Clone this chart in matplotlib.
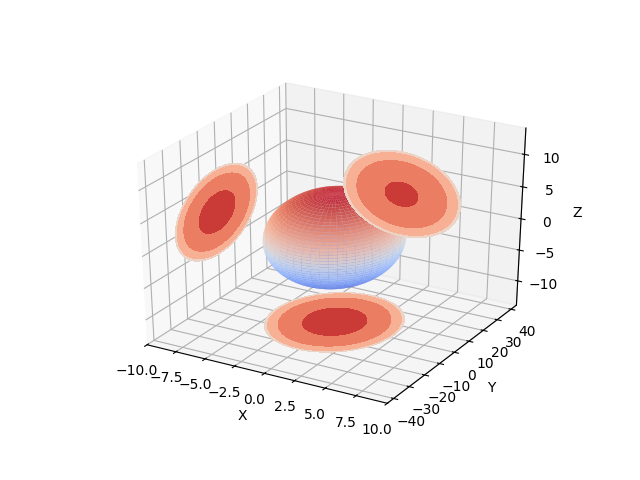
import numpy as np
import matplotlib
matplotlib.use("Agg")
import matplotlib.pyplot as plt
from matplotlib import cm

# ellipsoid radii and wall offsets
radius_x = 5
radius_y = 25
radius_z = 6.75
n_u = 100
n_v = 100
x_offset = -10
y_offset = 44
z_offset = -13.5

u = np.linspace(0, 2 * np.pi, n_u)
v = np.linspace(0, np.pi, n_v)
X = radius_x * np.outer(np.cos(u), np.sin(v))
Y = radius_y * np.outer(np.sin(u), np.sin(v))
Z = radius_z * np.outer(np.ones(n_u), np.cos(v))

fig = plt.figure()
ax = fig.add_subplot(projection="3d", computed_zorder=False)
# stretch the box to the whole axes rectangle
ax.apply_aspect = lambda position=None: None
ax.set_box_aspect((1, 1, 1), zoom=0.94)
ax.plot_surface(X, Y, Z, cmap=cm.coolwarm, alpha=0.85)

ax.contourf(X, Y, Z, zdir="z", offset=z_offset, cmap=cm.coolwarm)
ax.contourf(X, Y, Z, zdir="x", offset=x_offset, cmap=cm.coolwarm)
ax.contourf(X, Y, Z, zdir="y", offset=y_offset, cmap=cm.coolwarm)

ax.set_xlim(-10, 10)
ax.set_ylim(-44, 44)
ax.set_zlim(-14, 14)
ax.set_xlabel("X")
ax.set_ylabel("Y")
ax.set_zlabel("Z")

plt.savefig("out.png")
